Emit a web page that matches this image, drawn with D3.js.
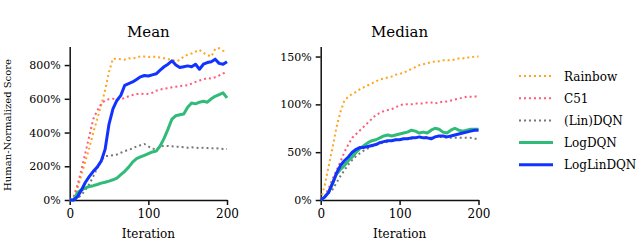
<!DOCTYPE html>
<html>
<head>
<meta charset="utf-8">
<script src="https://cdn.jsdelivr.net/npm/d3@7"></script>
<style>
body { margin: 0; background: #fff; }
svg text { font-family: "DejaVu Serif", serif; fill: #000; }
.axis path, .axis line { stroke: #111; stroke-width: 1.5; }
</style>
</head>
<body>
<div id="chart"></div>
<script>
// iterations, every 5 steps
const iterations = d3.range(0, 201, 5);
const seriesNames = [`Rainbow`, `C51`, `(Lin)DQN`, `LogDQN`, `LogLinDQN`];

// mean human-normalized score (%)
const meanRainbow = [0,15,70,150,230,310,400,480,560,650,760,838,838,835,832,840,838,845,852,850,848,850,848,845,840,835,832,822,830,850,862,868,880,890,872,860,850,895,900,885,880];
const meanC51 = [0,20,90,180,280,380,480,530,570,590,598,600,598,598,605,615,622,628,630,628,630,635,648,655,660,663,668,672,676,678,680,690,700,708,715,723,720,728,738,750,760];
const meanDQN = [0,0,10,30,60,95,140,190,235,260,262,265,270,280,290,298,305,318,325,332,318,305,300,315,322,320,318,316,315,313,310,312,310,308,310,308,306,307,305,303,302];
const meanLogDQN = [0,0,45,60,72,80,85,92,100,105,112,120,130,150,170,195,225,245,255,265,275,285,290,320,365,420,480,500,505,510,550,575,570,580,585,580,600,615,625,635,605];
const meanLogLinDQN = [0,0,20,60,105,140,170,195,230,300,450,540,590,620,680,690,700,715,730,738,735,742,748,770,790,805,825,800,785,790,795,790,805,775,805,815,820,835,810,805,820];

// median human-normalized score (%)
const medRainbow = [0,15,35,55,76,92,104,108,111,113,116,118,120,122,124,126,127,128,129,131,132,133,135,137,139,141,142,143,144,145,145,146,146,146,147,148,148,149,149,150,150];
const medC51 = [0,4,12,22,31,40,50,58,65,69,73,77,81,85,89,91,93,94,95,97,99,100,100,100,101,101,101,102,102,101,102,103,103,104,105,106,107,108,108,108,109];
const medDQN = [0,3,7,11,18,25,31,37,42,46,49,52,54,56,58,59,60,61,62,63,63,64,64,64,65,65,65,66,65,66,66,66,65,65,65,65,65,65,65,64,64];
const medLogDQN = [0,3,8,18,27,32,36,41,45,50,54,57,60,62,63,65,67,68,67,68,69,70,71,73,72,70,71,70,73,75,74,71,70,73,75,73,72,73,74,74,74];
const medLogLinDQN = [0,3,8,17,28,36,41,45,50,53,55,55,56,57,58,60,61,62,62,63,63,64,64,65,65,66,65,65,64,66,67,67,66,67,68,69,70,71,72,73,73];

const meanTicks = [0, 200, 400, 600, 800];
const medTicks = [0, 50, 100, 150];
const xTicks = [0, 100, 200];

const colors = [`#ffa41b`, `#ff5a7a`, `#777777`, `#30bb78`, `#1233ff`];
const dotted = [true, true, true, false, false];

let svg = d3.select(`#chart`).append(`svg`)
    .attr(`width`, 640)
    .attr(`height`, 241);

function panel(left, right, maxY, ticks, title, values, showYLabel) {
    let x = d3.scaleLinear().domain([0, 200]).range([left, right]);
    let y = d3.scaleLinear().domain([0, maxY]).range([200, 46.5]);

    svg.append(`g`)
        .attr(`class`, `axis`)
        .attr(`transform`, `translate(0,200)`)
        .call(d3.axisBottom(x).tickValues(xTicks).tickSize(5).tickSizeOuter(0).tickPadding(4))
        .selectAll(`text`).attr(`font-size`, 12).style(`font-family`, `DejaVu Serif`).attr(`fill`, `#000`);

    svg.append(`g`)
        .attr(`class`, `axis`)
        .attr(`transform`, `translate(${left},0)`)
        .call(d3.axisLeft(y).tickValues(ticks).tickFormat(d => d + `%`).tickSize(5).tickSizeOuter(0).tickPadding(4))
        .selectAll(`text`).attr(`font-size`, 11).style(`font-family`, `DejaVu Serif`).attr(`fill`, `#000`);

    svg.append(`text`)
        .attr(`x`, (left + right) / 2)
        .attr(`y`, 37)
        .attr(`text-anchor`, `middle`)
        .attr(`font-size`, 15)
        .text(title);

    svg.append(`text`)
        .attr(`x`, (left + right) / 2)
        .attr(`y`, 238)
        .attr(`text-anchor`, `middle`)
        .attr(`font-size`, 12)
        .text(`Iteration`);

    if (showYLabel) {
        svg.append(`text`)
            .attr(`transform`, `translate(11,125) rotate(-90)`)
            .attr(`text-anchor`, `middle`)
            .attr(`font-size`, 10)
            .text(`Human-Normalized Score`);
    }

    let line = d3.line()
        .x((d, i) => x(iterations[i]))
        .y(d => y(d));

    values.forEach((vals, i) => {
        svg.append(`path`)
            .datum(vals)
            .attr(`fill`, `none`)
            .attr(`stroke`, colors[i])
            .attr(`stroke-width`, dotted[i] ? 2 : 3)
            .attr(`stroke-dasharray`, dotted[i] ? `2,3` : null)
            .attr(`stroke-linejoin`, `round`)
            .attr(`d`, line);
    });
}

panel(69.7, 227, 910, meanTicks, `Mean`,
    [meanRainbow, meanC51, meanDQN, meanLogDQN, meanLogLinDQN], true);
panel(320.7, 478.5, 160.5, medTicks, `Median`,
    [medRainbow, medC51, medDQN, medLogDQN, medLogLinDQN], false);

// legend
let legend = svg.append(`g`).attr(`class`, `legend`);
seriesNames.forEach((name, i) => {
    let ly = 76 + i * 22.2;
    legend.append(`line`)
        .attr(`x1`, 519).attr(`x2`, 553)
        .attr(`y1`, ly).attr(`y2`, ly)
        .attr(`stroke`, colors[i])
        .attr(`stroke-width`, dotted[i] ? 2 : 3)
        .attr(`stroke-dasharray`, dotted[i] ? `2,3` : null);
    legend.append(`text`)
        .attr(`x`, 564)
        .attr(`y`, ly + 4.5)
        .attr(`font-size`, 12)
        .text(name);
});
</script>
</body>
</html>
